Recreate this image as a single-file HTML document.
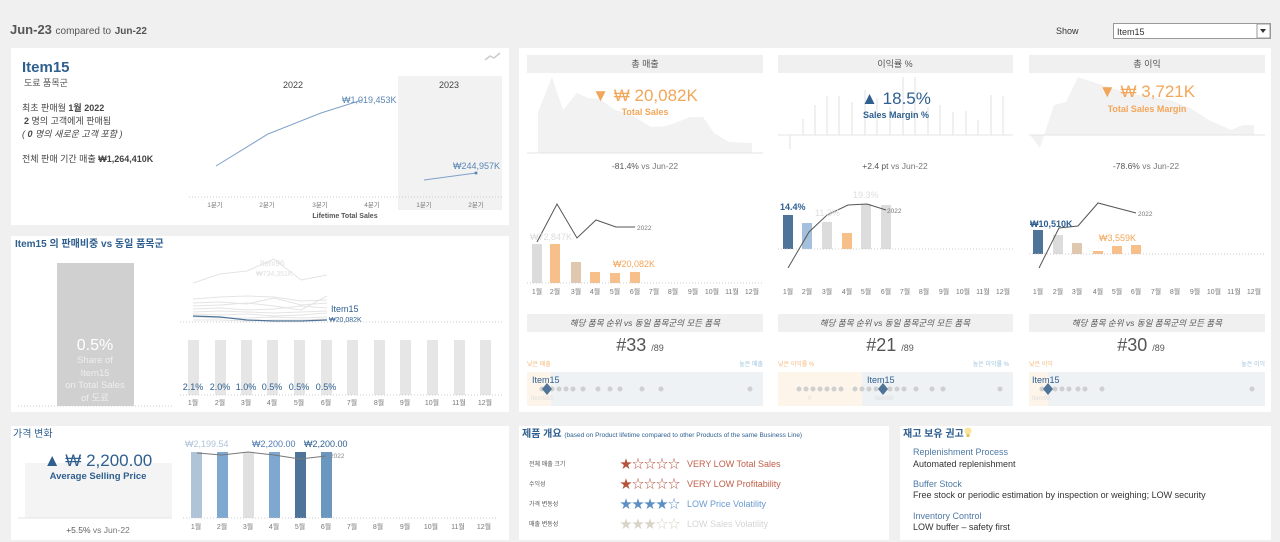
<!DOCTYPE html>
<html><head><meta charset="utf-8"><style>
html,body{margin:0;padding:0;background:#f0f0f0;}
svg{display:block;font-family:"Liberation Sans","Noto Sans CJK KR",sans-serif;}
</style></head><body>
<svg width="1280" height="542" viewBox="0 0 1280 542" xmlns="http://www.w3.org/2000/svg">
<rect width="1280" height="542" fill="#f0f0f0"/>
<!-- header -->
<text x="10" y="34" font-size="13" font-weight="bold" fill="#555">Jun-23 <tspan font-size="10" font-weight="normal">compared to</tspan> <tspan font-size="10">Jun-22</tspan></text>
<text x="1056" y="34" font-size="9" fill="#333">Show</text>
<rect x="1113.5" y="23.5" width="157" height="15" fill="#fff" stroke="#999"/>
<text x="1117" y="35" font-size="9" fill="#333">Item15</text>
<rect x="1257" y="24" width="13" height="14" fill="#fff" stroke="#999"/>
<path d="M1260 29 L1266 29 L1263 33 Z" fill="#333"/>

<!-- panels -->
<rect x="11" y="48" width="498" height="177" fill="#fff"/>
<rect x="11" y="236" width="498" height="176" fill="#fff"/>
<rect x="11" y="426" width="498" height="114" fill="#fff"/>
<rect x="519" y="48" width="752" height="364" fill="#fff"/>
<rect x="519" y="426" width="370" height="114" fill="#fff"/>
<rect x="900" y="426" width="371" height="114" fill="#fff"/>

<!-- Panel A -->
<text x="22" y="72" font-size="15" font-weight="bold" fill="#2e5f8f">Item15</text>
<text x="24" y="86" font-size="9" fill="#555">도료 품목군</text>
<text x="22" y="111" font-size="9" fill="#444">최초 판매월 <tspan font-weight="bold">1월 2022</tspan></text>
<text x="24" y="124" font-size="9" fill="#444"><tspan font-weight="bold">2</tspan> 명의 고객에게 판매됨</text>
<text x="22" y="137" font-size="9" fill="#444" font-style="italic">( <tspan font-weight="bold">0</tspan> 명의 새로운 고객 포함 )</text>
<text x="22" y="162" font-size="9" fill="#444">전체 판매 기간 매출 <tspan font-weight="bold">₩1,264,410K</tspan></text>
<path d="M485 60 L490 56 L494 58 L500 53" stroke="#ccc" stroke-width="1.5" fill="none"/>
<rect x="398" y="76" width="104" height="134" fill="#f2f2f2"/>
<text x="293" y="88" font-size="9" fill="#444" text-anchor="middle">2022</text>
<text x="449" y="88" font-size="9" fill="#444" text-anchor="middle">2023</text>
<polyline points="216,166 268,134 321,113 362,100" stroke="#7ea1c8" stroke-width="1" fill="none"/>
<text x="342" y="103" font-size="9" fill="#5b86b5">₩1,019,453K</text>
<polyline points="424,180 476,173" stroke="#7ea1c8" stroke-width="1" fill="none"/>
<circle cx="476" cy="173" r="1.5" fill="#5b86b5"/>
<text x="453" y="169" font-size="9" fill="#5b86b5">₩244,957K</text>
<line x1="189" y1="197" x2="502" y2="197" stroke="#ccc" stroke-dasharray="1,2"/>
<g font-size="6.5" fill="#777" text-anchor="middle">
<text x="215" y="207">1분기</text><text x="267" y="207">2분기</text><text x="320" y="207">3분기</text><text x="372" y="207">4분기</text><text x="424" y="207">1분기</text><text x="476" y="207">2분기</text></g>
<text x="345" y="218" font-size="7" font-weight="bold" fill="#555" text-anchor="middle">Lifetime Total Sales</text>

<!-- Panel B -->
<text x="15" y="247" font-size="10" font-weight="bold" fill="#2e5f8f">Item15 의 판매비중 vs 동일 품목군</text>
<rect x="57" y="263" width="77" height="143" fill="#d0d0d0"/>
<line x1="18" y1="406" x2="172" y2="406" stroke="#ccc" stroke-dasharray="1,2"/>
<text x="95" y="350" font-size="16" fill="#fff" text-anchor="middle">0.5%</text>
<g font-size="9.5" fill="#eee" text-anchor="middle">
<text x="95" y="363">Share of</text><text x="95" y="376">Item15</text><text x="95" y="388">on Total Sales</text><text x="95" y="401">of 도료</text></g>
<g stroke="#e4e4e4" fill="none" stroke-width="1">
<polyline points="193,283 220,274 247,271 274,259 301,280 327,275"/>
<polyline points="193,299 220,297 247,296 274,297 301,301 327,300"/>
<polyline points="193,303 220,302 247,304 274,298 301,305 327,303"/>
<polyline points="193,306 220,305 247,303 274,306 301,310 327,296"/>
<polyline points="193,309 220,308 247,310 274,309 301,306 327,308"/>
<polyline points="193,312 220,311 247,312 274,313 301,312 327,311"/>
<polyline points="193,314 220,315 247,314 274,316 301,315 327,313"/>
<polyline points="193,317 220,318 247,318 274,317 301,318 327,317"/>
<polyline points="193,320 220,320 247,321 274,320 301,320 327,319"/>
</g>
<text x="260" y="266" font-size="8" fill="#e0e0e0">Item96</text>
<text x="256" y="276" font-size="7" fill="#e0e0e0">₩734,351K</text>
<polyline points="193,316 220,317 247,320 274,321 301,321 327,320" stroke="#4f7499" stroke-width="1.2" fill="none"/>
<text x="331" y="312" font-size="9" fill="#2e5f8f">Item15</text>
<text x="329" y="322" font-size="7" fill="#2e5f8f">₩20,082K</text>
<line x1="180" y1="322" x2="502" y2="322" stroke="#ccc" stroke-dasharray="1,2"/>
<g fill="#e6e6e6">
<rect x="188" y="340" width="11" height="55"/><rect x="215" y="340" width="11" height="55"/><rect x="241" y="340" width="11" height="55"/><rect x="267" y="340" width="11" height="55"/><rect x="294" y="340" width="11" height="55"/><rect x="321" y="340" width="11" height="55"/><rect x="347" y="340" width="11" height="55"/><rect x="374" y="340" width="11" height="55"/><rect x="400" y="340" width="11" height="55"/><rect x="427" y="340" width="11" height="55"/><rect x="454" y="340" width="11" height="55"/><rect x="480" y="340" width="11" height="55"/></g>
<line x1="180" y1="395" x2="502" y2="395" stroke="#ccc" stroke-dasharray="1,2"/>
<g font-size="9" fill="#2e5f8f" text-anchor="middle">
<text x="193" y="390">2.1%</text><text x="220" y="390">2.0%</text><text x="246" y="390">1.0%</text><text x="272" y="390">0.5%</text><text x="299" y="390">0.5%</text><text x="326" y="390">0.5%</text></g>
<g font-size="7" fill="#777" text-anchor="middle">
<text x="193" y="405">1월</text><text x="220" y="405">2월</text><text x="246" y="405">3월</text><text x="272" y="405">4월</text><text x="299" y="405">5월</text><text x="326" y="405">6월</text><text x="352" y="405">7월</text><text x="379" y="405">8월</text><text x="405" y="405">9월</text><text x="432" y="405">10월</text><text x="459" y="405">11월</text><text x="485" y="405">12월</text></g>

<!-- Panel C -->
<text x="13" y="437" font-size="10" fill="#2e5f8f">가격 변화</text>
<rect x="25" y="463" width="147" height="55" fill="#f4f4f4"/>
<line x1="18" y1="518" x2="172" y2="518" stroke="#e6e6e6"/>
<text x="98" y="466" font-size="17" fill="#2e5f8f" text-anchor="middle">▲ ₩ 2,200.00</text>
<text x="98" y="479" font-size="9.5" font-weight="bold" fill="#2e5f8f" text-anchor="middle">Average Selling Price</text>
<text x="98" y="533" font-size="8.5" fill="#777" text-anchor="middle"><tspan fill="#555">+5.5%</tspan> vs Jun-22</text>
<rect x="191" y="452" width="11" height="66" fill="#b0c4d8"/>
<rect x="217" y="452" width="11" height="66" fill="#7ea8d0"/>
<rect x="243" y="452" width="11" height="66" fill="#e0e0e0"/>
<rect x="269" y="452" width="11" height="66" fill="#7ea8d0"/>
<rect x="295" y="452" width="11" height="66" fill="#4f7499"/>
<rect x="321" y="452" width="11" height="66" fill="#6b96bd"/>
<polyline points="197,453 222,455 248,452 274,455 300,459 326,456" stroke="#777" stroke-width="1" fill="none"/>
<text x="330" y="458" font-size="6.5" fill="#888">2022</text>
<text x="185" y="447" font-size="9" fill="#b0c4d8">₩2,199.54</text>
<text x="252" y="447" font-size="9" fill="#4f7ab0">₩2,200.00</text>
<text x="304" y="447" font-size="9" fill="#2e5f8f">₩2,200.00</text>
<line x1="183" y1="518" x2="497" y2="518" stroke="#ccc" stroke-dasharray="1,2"/>
<g font-size="7" fill="#777" text-anchor="middle">
<text x="196" y="529">1월</text><text x="222" y="529">2월</text><text x="248" y="529">3월</text><text x="274" y="529">4월</text><text x="300" y="529">5월</text><text x="326" y="529">6월</text><text x="352" y="529">7월</text><text x="378" y="529">8월</text><text x="405" y="529">9월</text><text x="431" y="529">10월</text><text x="458" y="529">11월</text><text x="484" y="529">12월</text></g>

<!-- Right panel headers -->
<g fill="#f0f0f0"><rect x="527" y="55" width="236" height="18"/><rect x="778" y="55" width="235" height="18"/><rect x="1029" y="55" width="236" height="18"/>
<rect x="527" y="314" width="236" height="18"/><rect x="778" y="314" width="235" height="18"/><rect x="1029" y="314" width="236" height="18"/></g>
<g font-size="9" fill="#555" text-anchor="middle"><text x="645" y="67">총 매출</text><text x="895" y="67">이익률 %</text><text x="1147" y="67">총 이익</text></g>
<g font-size="8.5" fill="#555" text-anchor="middle" font-style="italic"><text x="645" y="326">해당 품목 순위 vs 동일 품목군의 모든 품목</text><text x="895" y="326">해당 품목 순위 vs 동일 품목군의 모든 품목</text><text x="1147" y="326">해당 품목 순위 vs 동일 품목군의 모든 품목</text></g>

<!-- sec1 area -->
<polygon points="538,153 538,112 552,77 563,110 577,93 588,98 600,99 615,110 632,115 651,127 666,126 675,123 690,117 703,117 714,133 729,142 752,143 752,153" fill="#f2f2f2"/>
<line x1="527" y1="153" x2="763" y2="153" stroke="#e4e4e4"/>
<text x="645" y="101" font-size="17" fill="#f2a65a" text-anchor="middle">▼ ₩ 20,082K</text>
<text x="645" y="115" font-size="9" font-weight="bold" fill="#f2a65a" text-anchor="middle">Total Sales</text>
<text x="645" y="169" font-size="8.5" fill="#777" text-anchor="middle"><tspan fill="#555">-81.4%</tspan> vs Jun-22</text>
<!-- sec2 lines -->
<g stroke="#e2e2e2" stroke-width="1">
<line x1="803" y1="135" x2="803" y2="119"/><line x1="815" y1="135" x2="815" y2="105"/><line x1="827" y1="135" x2="827" y2="96"/><line x1="839" y1="135" x2="839" y2="96"/><line x1="852" y1="135" x2="852" y2="102"/><line x1="865" y1="135" x2="865" y2="90"/><line x1="877" y1="135" x2="877" y2="98"/><line x1="890" y1="135" x2="890" y2="107"/><line x1="903" y1="135" x2="903" y2="77"/><line x1="915" y1="135" x2="915" y2="77"/><line x1="928" y1="135" x2="928" y2="107"/><line x1="940" y1="135" x2="940" y2="105"/><line x1="953" y1="135" x2="953" y2="112"/><line x1="966" y1="135" x2="966" y2="111"/><line x1="978" y1="135" x2="978" y2="120"/><line x1="991" y1="135" x2="991" y2="95"/><line x1="1003" y1="135" x2="1003" y2="96"/>
<line x1="790" y1="135" x2="790" y2="149"/></g>
<line x1="778" y1="135" x2="1013" y2="135" stroke="#e4e4e4"/>
<text x="896" y="104" font-size="17" fill="#2e5f8f" text-anchor="middle">▲ 18.5%</text>
<text x="896" y="118" font-size="9" font-weight="bold" fill="#2e5f8f" text-anchor="middle">Sales Margin %</text>
<text x="895" y="169" font-size="8.5" fill="#777" text-anchor="middle"><tspan fill="#555">+2.4 pt</tspan> vs Jun-22</text>
<!-- sec3 area -->
<polygon points="1030,135 1040,148 1054,105 1066,102 1078,77 1102,85 1127,93 1151,97 1170,100 1190,108 1209,120 1231,130 1243,125 1254,125 1254,135" fill="#f2f2f2"/>
<line x1="1029" y1="135" x2="1265" y2="135" stroke="#e4e4e4"/>
<text x="1147" y="97" font-size="17" fill="#f2a65a" text-anchor="middle">▼ ₩ 3,721K</text>
<text x="1147" y="112" font-size="9" font-weight="bold" fill="#f2a65a" text-anchor="middle">Total Sales Margin</text>
<text x="1146" y="169" font-size="8.5" fill="#777" text-anchor="middle"><tspan fill="#555">-78.6%</tspan> vs Jun-22</text>

<!-- bar charts sec1 -->
<rect x="532" y="244" width="10" height="39" fill="#dcdcdc"/>
<rect x="550" y="244" width="10" height="39" fill="#f7c08a"/>
<rect x="571" y="262" width="10" height="21" fill="#e0c8b0"/>
<rect x="590" y="272" width="10" height="11" fill="#f7c08a"/>
<rect x="610" y="273" width="10" height="10" fill="#f7c08a"/>
<rect x="630" y="272" width="10" height="11" fill="#f7c08a"/>
<line x1="527" y1="283" x2="763" y2="283" stroke="#ccc" stroke-dasharray="1,2"/>
<polyline points="537,242 557,204 577,238 596,220 616,227 635,227" stroke="#555" fill="none"/>
<text x="637" y="230" font-size="6.5" fill="#777">2022</text>
<text x="530" y="240" font-size="9" fill="#ddd">₩72,847K</text>
<text x="613" y="267" font-size="9" fill="#f2a65a">₩20,082K</text>
<g font-size="7" fill="#777" text-anchor="middle">
<text x="537" y="294">1월</text><text x="555" y="294">2월</text><text x="576" y="294">3월</text><text x="595" y="294">4월</text><text x="615" y="294">5월</text><text x="635" y="294">6월</text><text x="654" y="294">7월</text><text x="673" y="294">8월</text><text x="693" y="294">9월</text><text x="712" y="294">10월</text><text x="732" y="294">11월</text><text x="752" y="294">12월</text></g>
<!-- sec2 -->
<rect x="783" y="215" width="10" height="34" fill="#4f7499"/>
<rect x="802" y="223" width="10" height="26" fill="#a5c0dc"/>
<rect x="822" y="222" width="10" height="27" fill="#dcdcdc"/>
<rect x="842" y="233" width="10" height="16" fill="#f7c08a"/>
<rect x="861" y="204" width="10" height="45" fill="#dcdcdc"/>
<rect x="881" y="205" width="10" height="44" fill="#dcdcdc"/>
<line x1="778" y1="249" x2="1013" y2="249" stroke="#ccc" stroke-dasharray="1,2"/>
<polyline points="788,268 809,232 827,215 848,205 867,204 886,210" stroke="#555" fill="none"/>
<text x="887" y="213" font-size="6.5" fill="#777">2022</text>
<text x="780" y="210" font-size="9" font-weight="bold" fill="#2e5f8f">14.4%</text>
<text x="815" y="216" font-size="9" fill="#ddd">11.3%</text>
<text x="853" y="198" font-size="9" fill="#ddd">19.3%</text>
<g font-size="7" fill="#777" text-anchor="middle">
<text x="788" y="294">1월</text><text x="807" y="294">2월</text><text x="827" y="294">3월</text><text x="847" y="294">4월</text><text x="866" y="294">5월</text><text x="886" y="294">6월</text><text x="905" y="294">7월</text><text x="924" y="294">8월</text><text x="944" y="294">9월</text><text x="963" y="294">10월</text><text x="983" y="294">11월</text><text x="1003" y="294">12월</text></g>
<!-- sec3 -->
<rect x="1033" y="230" width="10" height="24" fill="#4f7499"/>
<rect x="1053" y="235" width="10" height="19" fill="#dcdcdc"/>
<rect x="1072" y="243" width="10" height="11" fill="#e0c8b0"/>
<rect x="1093" y="251" width="10" height="3" fill="#f7c08a"/>
<rect x="1112" y="246" width="10" height="8" fill="#f7c08a"/>
<rect x="1131" y="245" width="10" height="9" fill="#f7c08a"/>
<line x1="1029" y1="254" x2="1265" y2="254" stroke="#ccc" stroke-dasharray="1,2"/>
<polyline points="1039,268 1059,228 1078,226 1098,203 1117,208 1136,213" stroke="#555" fill="none"/>
<text x="1138" y="216" font-size="6.5" fill="#777">2022</text>
<text x="1030" y="227" font-size="9" font-weight="bold" fill="#2e5f8f">₩10,510K</text>
<text x="1099" y="241" font-size="9" fill="#f2a65a">₩3,559K</text>
<g font-size="7" fill="#777" text-anchor="middle">
<text x="1038" y="294">1월</text><text x="1058" y="294">2월</text><text x="1077" y="294">3월</text><text x="1098" y="294">4월</text><text x="1117" y="294">5월</text><text x="1136" y="294">6월</text><text x="1156" y="294">7월</text><text x="1175" y="294">8월</text><text x="1195" y="294">9월</text><text x="1214" y="294">10월</text><text x="1234" y="294">11월</text><text x="1254" y="294">12월</text></g>

<!-- ranks -->
<g font-size="18" fill="#555" text-anchor="middle">
<text x="640" y="351">#33 <tspan font-size="9">/89</tspan></text>
<text x="890" y="351">#21 <tspan font-size="9">/89</tspan></text>
<text x="1141" y="351">#30 <tspan font-size="9">/89</tspan></text></g>
<g font-size="6" fill="#f5b97a"><text x="527" y="366">낮은 매출</text><text x="778" y="366">낮은 이익률 %</text><text x="1029" y="366">낮은 이익</text></g>
<g font-size="6" fill="#9cc3e0" text-anchor="end"><text x="763" y="366">높은 매출</text><text x="1009" y="366">높은 이익률 %</text><text x="1265" y="366">높은 이익</text></g>
<rect x="527" y="372" width="236" height="34" fill="#eef2f4"/>
<rect x="527" y="372" width="24" height="34" fill="#fdf5ea"/>
<rect x="778" y="372" width="235" height="34" fill="#eef2f4"/>
<rect x="778" y="372" width="84" height="34" fill="#fdf5ea"/>
<rect x="1029" y="372" width="236" height="34" fill="#eef2f4"/>
<rect x="1029" y="372" width="19" height="34" fill="#fdf5ea"/>
<g fill="#cfcfcf">
<circle cx="542" cy="389" r="2.5"/><circle cx="552" cy="389" r="2.5"/><circle cx="559" cy="389" r="2.5"/><circle cx="566" cy="389" r="2.5"/><circle cx="573" cy="389" r="2.5"/><circle cx="583" cy="389" r="2.5"/><circle cx="598" cy="389" r="2.5"/><circle cx="610" cy="389" r="2.5"/><circle cx="620" cy="389" r="2.5"/><circle cx="642" cy="389" r="2.5"/><circle cx="661" cy="389" r="2.5"/><circle cx="750" cy="389" r="2.5"/>
<circle cx="799" cy="389" r="2.5"/><circle cx="806" cy="389" r="2.5"/><circle cx="813" cy="389" r="2.5"/><circle cx="820" cy="389" r="2.5"/><circle cx="827" cy="389" r="2.5"/><circle cx="834" cy="389" r="2.5"/><circle cx="841" cy="389" r="2.5"/><circle cx="855" cy="389" r="2.5"/><circle cx="862" cy="389" r="2.5"/><circle cx="869" cy="389" r="2.5"/><circle cx="876" cy="389" r="2.5"/><circle cx="890" cy="389" r="2.5"/><circle cx="897" cy="389" r="2.5"/><circle cx="904" cy="389" r="2.5"/><circle cx="916" cy="389" r="2.5"/><circle cx="932" cy="389" r="2.5"/><circle cx="943" cy="389" r="2.5"/><circle cx="1000" cy="389" r="2.5"/>
<circle cx="1042" cy="389" r="2.5"/><circle cx="1055" cy="389" r="2.5"/><circle cx="1062" cy="389" r="2.5"/><circle cx="1069" cy="389" r="2.5"/><circle cx="1078" cy="389" r="2.5"/><circle cx="1085" cy="389" r="2.5"/><circle cx="1102" cy="389" r="2.5"/><circle cx="1252" cy="389" r="2.5"/></g>
<g fill="#4f7499"><path d="M547 383 L552 389 L547 395 L542 389Z"/><path d="M883 383 L888 389 L883 395 L878 389Z"/><path d="M1048 383 L1053 389 L1048 395 L1043 389Z"/></g>
<g font-size="9" fill="#2e5f8f"><text x="532" y="383">Item15</text><text x="867" y="383">Item15</text><text x="1032" y="383">Item15</text></g>
<g font-size="6" fill="#ddd"><text x="531" y="400">Item980</text><text x="808" y="400">0</text><text x="875" y="400">Item98</text><text x="1032" y="400">Item98</text></g>

<!-- Panel D -->
<text x="522" y="437" font-size="10" font-weight="bold" fill="#2e5f8f">제품 개요 <tspan font-size="6.5" font-weight="normal">(based on Product lifetime compared to other Products of the same Business Line)</tspan></text>
<g font-size="6" fill="#555"><text x="529" y="466">전체 매출 크기</text><text x="529" y="486">수익성</text><text x="529" y="506">가격 변동성</text><text x="529" y="526">매출 변동성</text></g>
<g font-size="12">
<text x="620" y="468" fill="#b5523b">★☆☆☆☆</text>
<text x="620" y="488" fill="#b5523b">★☆☆☆☆</text>
<text x="620" y="508" fill="#5b8fc4">★★★★☆</text>
<text x="620" y="528" fill="#d9d4c8">★★★☆☆</text></g>
<g font-size="9"><text x="687" y="467" fill="#c0604a">VERY LOW Total Sales</text><text x="687" y="487" fill="#c0604a">VERY LOW Profitability</text><text x="687" y="507" fill="#6a9bd0">LOW Price Volatility</text><text x="687" y="527" fill="#d5d5d5">LOW Sales Volatility</text></g>

<!-- Panel E -->
<text x="903" y="437" font-size="10" font-weight="bold" fill="#2e5f8f">재고 보유 권고</text>
<circle cx="968" cy="431" r="3.5" fill="#fbe39a"/><rect x="966.5" y="434" width="3" height="3" fill="#e3c25a"/>
<g font-size="9"><text x="913" y="455" fill="#4e79a7">Replenishment Process</text><text x="913" y="467" fill="#333">Automated replenishment</text>
<text x="913" y="487" fill="#4e79a7">Buffer Stock</text><text x="913" y="498" fill="#333">Free stock or periodic estimation by inspection or weighing; LOW security</text>
<text x="913" y="519" fill="#4e79a7">Inventory Control</text><text x="913" y="530" fill="#333">LOW buffer – safety first</text></g>
</svg>
</body></html>
